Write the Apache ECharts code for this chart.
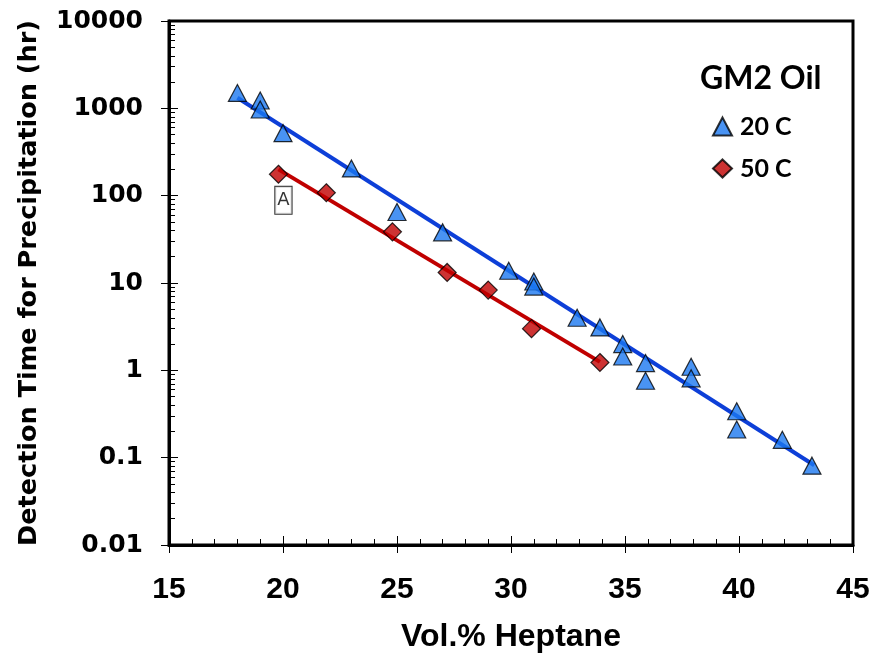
<!DOCTYPE html>
<html>
<head>
<meta charset="utf-8">
<script src="https://cdn.jsdelivr.net/npm/echarts@6/dist/echarts.min.js"></script>
<style>html,body{margin:0;padding:0;background:#fff}#c{width:870px;height:654px}</style>
</head>
<body>
<div id="c"></div>
<script>
// ---- data ----
var x20 = [18, 19, 19, 20, 23, 25, 27, 29.9, 31, 31, 32.9, 33.9, 34.9, 34.9, 35.9, 35.9, 37.9, 37.9, 39.9, 39.9, 41.9, 43.2];
var y20 = [1500, 1230, 970, 520, 205, 65, 38, 13.8, 10.4, 9.1, 4.0, 3.1, 2.0, 1.44, 1.21, 0.76, 1.10, 0.81, 0.34, 0.21, 0.16, 0.081];
var x50 = [19.8, 21.9, 24.8, 27.2, 29, 30.9, 33.9];
var y50 = [176, 108, 38.5, 13.2, 8.3, 3.0, 1.23];
var fit20X = [18, 43.3];
var fit20Y = [1320, 0.082];
var fit50X = [19.8, 33.9];
var fit50Y = [200, 1.25];
var yTicks = [0.01, 0.1, 1, 10, 100, 1000, 10000];
var yTickLabels = ['0.01', '0.1', '1', '10', '100', '1000', '10000'];
var xTicks = [15, 20, 25, 30, 35, 40, 45];
var seriesNames = ['20 C', '50 C'];
var legendTitle = 'GM2 Oil';
var annotationText = 'A';

// minor tick values of the log axis (2..9 per decade)
var yMinor = [];
for (var d = 0; d < yTicks.length - 1; d++) {
  for (var m = 2; m <= 9; m++) yMinor.push(+(yTicks[d] * m).toPrecision(6));
}
function pairs(xs, ys) { return xs.map(function (x, i) { return [x, ys[i]]; }); }

var d50 = pairs(x50, y50);
d50[0] = {
  value: d50[0],
  label: {
    show: true, formatter: annotationText, position: 'bottom', distance: 3, offset: [5, 0],
    color: '#000', fontFamily: 'DejaVu Sans', fontSize: 18, fontWeight: 'normal',
    borderColor: '#000', borderWidth: 1, padding: [5, 2, 4, 2], backgroundColor: '#fff'
  }
};

var chart = echarts.init(document.getElementById('c'), null, {renderer: 'canvas'});
var labFmt = function (v) {
  var best = 0, bd = Infinity;
  yTicks.forEach(function (t, i) { var dd = Math.abs(Math.log10(t) - Math.log10(v)); if (dd < bd) { bd = dd; best = i; } });
  return yTickLabels[best];
};
var grid = {left: 169, right: 17, top: 21, bottom: 109, show: true, borderColor: '#000', borderWidth: 3,
  backgroundColor: 'transparent', containLabel: false, outerBoundsMode: 'none'};
var xBase = {type: 'value', min: xTicks[0], max: xTicks[xTicks.length - 1], gridIndex: 0, splitLine: {show: false}};
var yBase = {type: 'log', logBase: 10, min: yTicks[0], max: yTicks[yTicks.length - 1], gridIndex: 0, splitLine: {show: false}};

chart.setOption({
  animation: false,
  backgroundColor: '#fff',
  grid: grid,
  title: {
    text: legendTitle, left: 695, top: 58,
    textStyle: {fontFamily: 'Lato', fontWeight: 'bold', fontSize: 32, color: '#000'}
  },
  legend: {
    data: seriesNames, orient: 'vertical', left: 707, top: 109, itemGap: 17,
    itemWidth: 19, itemHeight: 18,
    textStyle: {fontFamily: 'Lato', fontWeight: 'bold', fontSize: 25, color: '#000', padding: [0, 0, 0, 3]}
  },
  xAxis: [
    Object.assign({}, xBase, {
      interval: 5,
      name: 'Vol.% Heptane', nameLocation: 'middle', nameGap: 76,
      nameTextStyle: {fontFamily: 'Liberation Sans', fontWeight: 'bold', fontSize: 32, color: '#000'},
      axisLine: {show: true, onZero: false, lineStyle: {color: '#000', width: 3}},
      axisTick: {show: true, inside: false, length: 8, lineStyle: {color: '#000', width: 1}},
      axisLabel: {show: true, margin: 30, fontFamily: 'Liberation Sans', fontWeight: 'bold', fontSize: 30, color: '#000'}
    }),
    Object.assign({}, xBase, {
      interval: 1, position: 'bottom',
      axisLine: {show: false, onZero: false}, axisLabel: {show: false},
      axisTick: {show: true, inside: true, length: 6, lineStyle: {color: '#000', width: 1}}
    }),
    Object.assign({}, xBase, {
      interval: 5, position: 'bottom',
      axisLine: {show: false, onZero: false}, axisLabel: {show: false},
      axisTick: {show: true, inside: true, length: 9, lineStyle: {color: '#000', width: 1}}
    })
  ],
  yAxis: [
    Object.assign({}, yBase, {
      name: 'Detection Time for Precipitation (hr)', nameLocation: 'middle', nameGap: 127, nameRotate: 90,
      nameTextStyle: {fontFamily: 'DejaVu Sans', fontWeight: 'bold', fontSize: 25.5, color: '#000'},
      axisLine: {show: true, onZero: false, lineStyle: {color: '#000', width: 3}},
      axisTick: {show: true, inside: false, length: 8, customValues: yTicks, lineStyle: {color: '#000', width: 1}},
      axisLabel: {show: true, margin: 26, customValues: yTicks, formatter: labFmt,
        fontFamily: 'DejaVu Sans', fontWeight: 'bold', fontSize: 25, color: '#000'}
    }),
    Object.assign({}, yBase, {
      position: 'left',
      axisLine: {show: false, onZero: false}, axisLabel: {show: false},
      axisTick: {show: true, inside: true, length: 6, customValues: yMinor, lineStyle: {color: '#000', width: 1}}
    }),
    Object.assign({}, yBase, {
      position: 'left',
      axisLine: {show: false, onZero: false}, axisLabel: {show: false},
      axisTick: {show: true, inside: true, length: 9, customValues: yTicks, lineStyle: {color: '#000', width: 1}}
    })
  ],
  series: [
    {
      type: 'line', name: 'fit20', data: pairs(fit20X, fit20Y), xAxisIndex: 0, yAxisIndex: 0,
      showSymbol: false, symbol: 'none', lineStyle: {color: '#0D3FD8', width: 4}, z: 2, silent: true
    },
    {
      type: 'line', name: 'fit50', data: pairs(fit50X, fit50Y), xAxisIndex: 0, yAxisIndex: 0,
      showSymbol: false, symbol: 'none', lineStyle: {color: '#C00000', width: 4}, z: 2, silent: true
    },
    {
      type: 'scatter', name: seriesNames[0], data: pairs(x20, y20), xAxisIndex: 0, yAxisIndex: 0,
      symbol: 'triangle', symbolSize: [18, 17],
      itemStyle: {color: '#1C78F0', borderColor: '#000', borderWidth: 1.2}, z: 3
    },
    {
      type: 'scatter', name: seriesNames[1], data: d50, xAxisIndex: 0, yAxisIndex: 0,
      symbol: 'diamond', symbolSize: [18, 18],
      itemStyle: {color: '#C00000', borderColor: '#000', borderWidth: 1.2}, z: 3
    }
  ]
});
</script>
</body>
</html>
